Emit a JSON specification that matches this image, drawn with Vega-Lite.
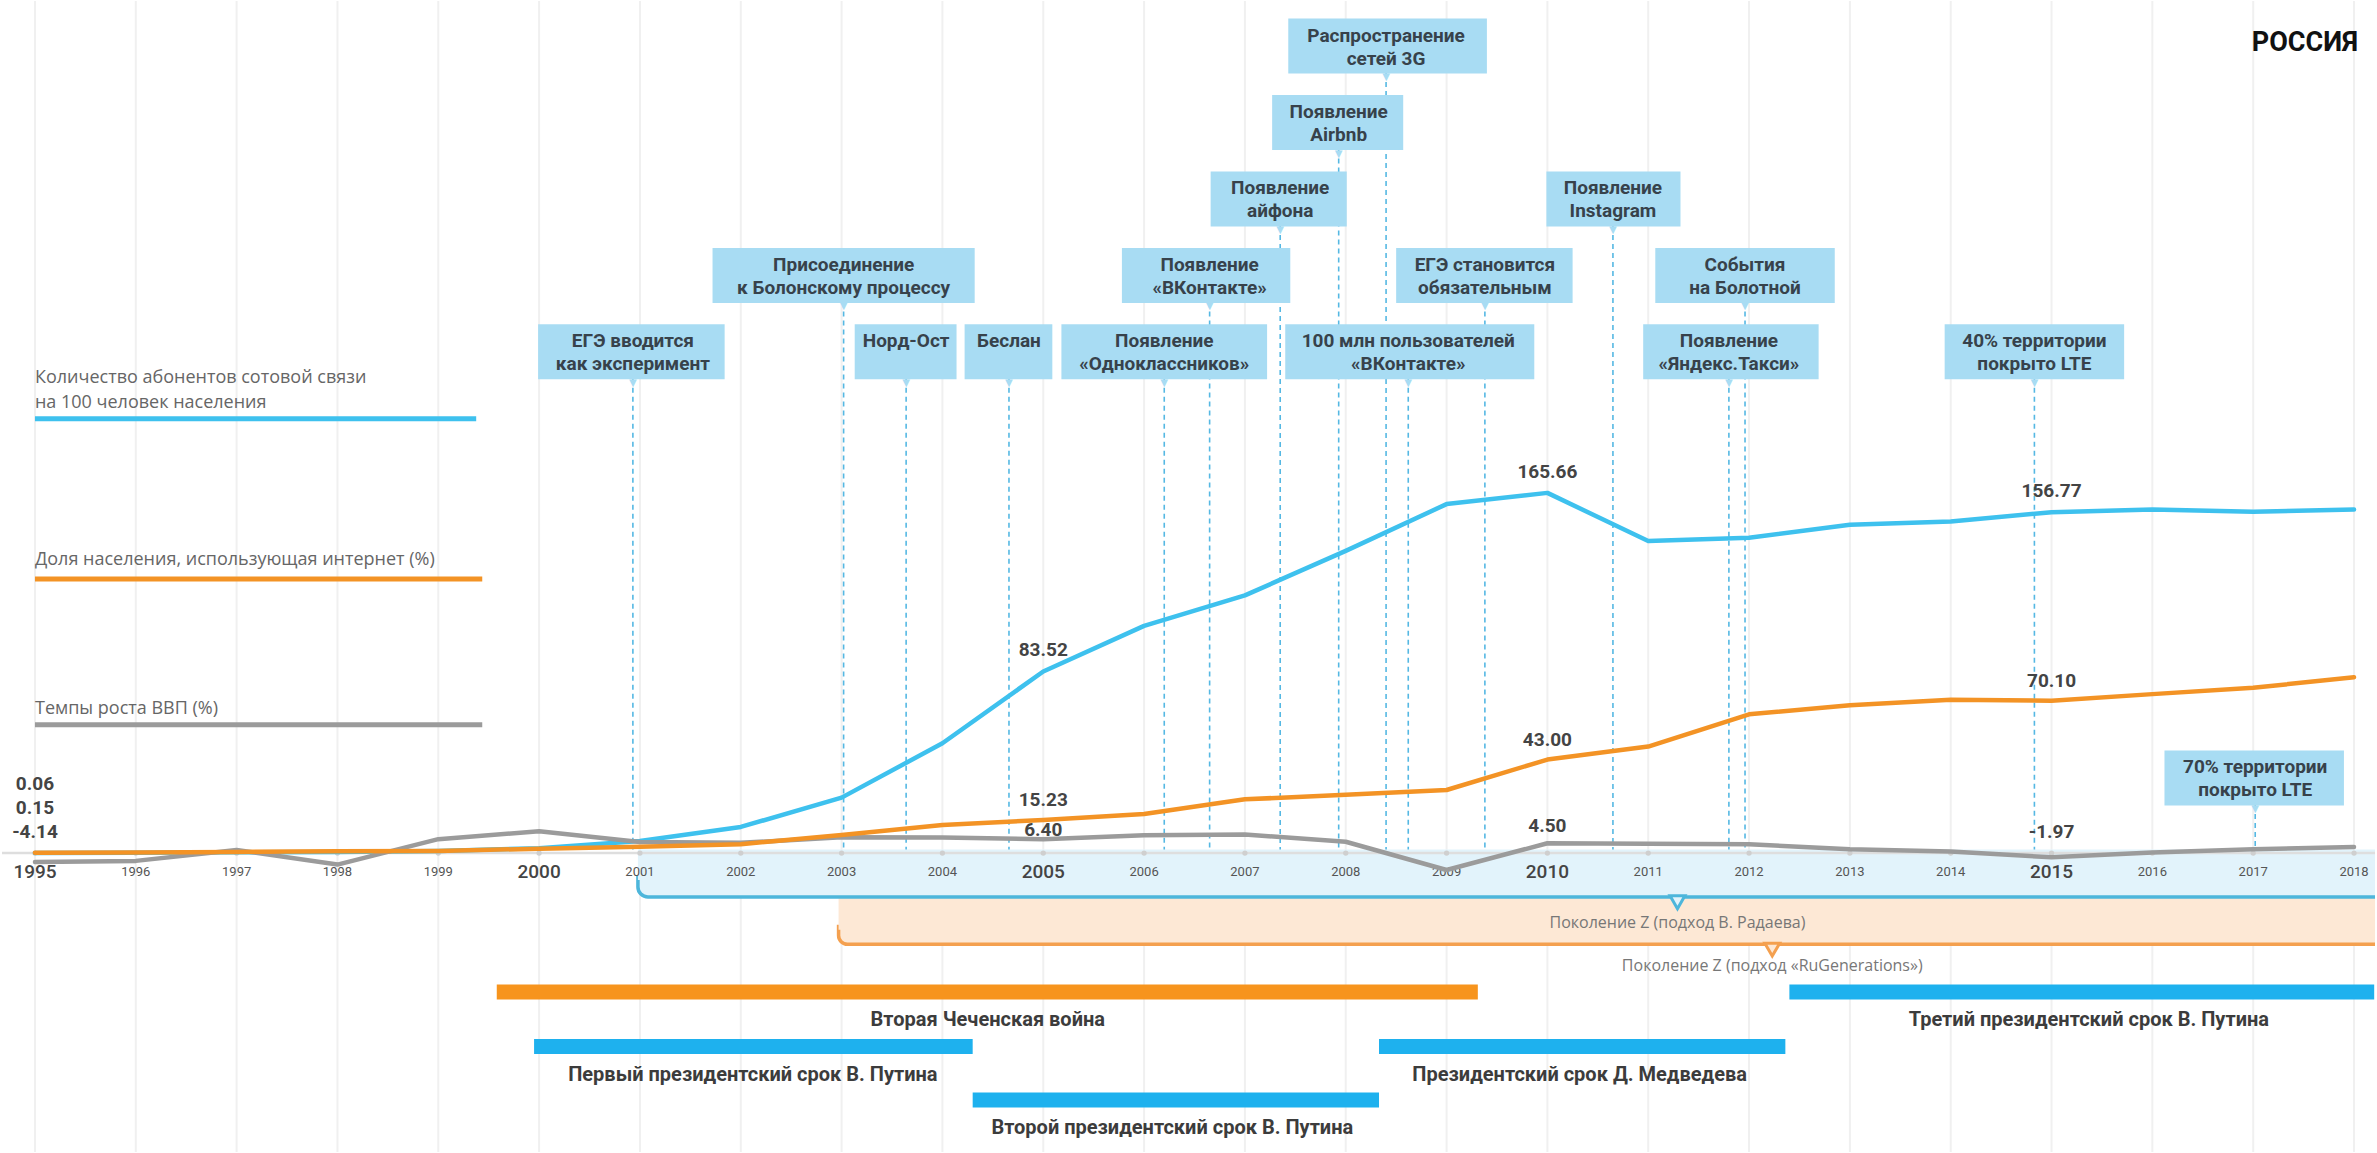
{
"$schema":"https://vega.github.io/schema/vega-lite/v6.json",
"width":2377,"height":1153,
"autosize":{"type":"fit","contains":"padding"},
"padding":0,
"background":"#ffffff",
"config":{"view":{"stroke":null},"font":"Roboto","locale":{"number":{"decimal":".","thousands":",","grouping":[3],"currency":["$",""],"minus":"-"}}},
"datasets":{
"series":[
{"year":1995,"series":"mobile","value":0.06},{"year":1996,"series":"mobile","value":0.15},{"year":1997,"series":"mobile","value":0.33},{"year":1998,"series":"mobile","value":0.51},{"year":1999,"series":"mobile","value":0.94},{"year":2000,"series":"mobile","value":2.2},{"year":2001,"series":"mobile","value":5.5},{"year":2002,"series":"mobile","value":12.0},{"year":2003,"series":"mobile","value":25.5},{"year":2004,"series":"mobile","value":50.5},{"year":2005,"series":"mobile","value":83.52},{"year":2006,"series":"mobile","value":104.5},{"year":2007,"series":"mobile","value":118.5},{"year":2008,"series":"mobile","value":139.0},{"year":2009,"series":"mobile","value":160.5},{"year":2010,"series":"mobile","value":165.66},{"year":2011,"series":"mobile","value":143.5},{"year":2012,"series":"mobile","value":145.0},{"year":2013,"series":"mobile","value":151.0},{"year":2014,"series":"mobile","value":152.5},{"year":2015,"series":"mobile","value":156.77},{"year":2016,"series":"mobile","value":158.0},{"year":2017,"series":"mobile","value":157.0},{"year":2018,"series":"mobile","value":158.0},
{"year":1995,"series":"internet","value":0.15},{"year":1996,"series":"internet","value":0.3},{"year":1997,"series":"internet","value":0.5},{"year":1998,"series":"internet","value":0.8},{"year":1999,"series":"internet","value":1.0},{"year":2000,"series":"internet","value":2.0},{"year":2001,"series":"internet","value":2.9},{"year":2002,"series":"internet","value":4.1},{"year":2003,"series":"internet","value":8.3},{"year":2004,"series":"internet","value":12.9},{"year":2005,"series":"internet","value":15.23},{"year":2006,"series":"internet","value":18.0},{"year":2007,"series":"internet","value":24.7},{"year":2008,"series":"internet","value":26.8},{"year":2009,"series":"internet","value":29.0},{"year":2010,"series":"internet","value":43.0},{"year":2011,"series":"internet","value":49.0},{"year":2012,"series":"internet","value":63.8},{"year":2013,"series":"internet","value":68.0},{"year":2014,"series":"internet","value":70.5},{"year":2015,"series":"internet","value":70.1},{"year":2016,"series":"internet","value":73.1},{"year":2017,"series":"internet","value":76.0},{"year":2018,"series":"internet","value":80.9},
{"year":1995,"series":"gdp","value":-4.14},{"year":1996,"series":"gdp","value":-3.6},{"year":1997,"series":"gdp","value":1.4},{"year":1998,"series":"gdp","value":-5.3},{"year":1999,"series":"gdp","value":6.4},{"year":2000,"series":"gdp","value":10.0},{"year":2001,"series":"gdp","value":5.1},{"year":2002,"series":"gdp","value":4.7},{"year":2003,"series":"gdp","value":7.3},{"year":2004,"series":"gdp","value":7.2},{"year":2005,"series":"gdp","value":6.4},{"year":2006,"series":"gdp","value":8.2},{"year":2007,"series":"gdp","value":8.5},{"year":2008,"series":"gdp","value":5.2},{"year":2009,"series":"gdp","value":-7.8},{"year":2010,"series":"gdp","value":4.5},{"year":2011,"series":"gdp","value":4.3},{"year":2012,"series":"gdp","value":4.0},{"year":2013,"series":"gdp","value":1.8},{"year":2014,"series":"gdp","value":0.7},{"year":2015,"series":"gdp","value":-1.97},{"year":2016,"series":"gdp","value":0.2},{"year":2017,"series":"gdp","value":1.8},{"year":2018,"series":"gdp","value":2.8}
],
"events":[
{"label":"ЕГЭ вводится\nкак эксперимент","year":2000.93,"x0":1999.99,"x1":2001.84,"tier":1},
{"label":"Норд-Ост\n ","year":2003.64,"x0":2003.13,"x1":2004.14,"tier":1},
{"label":"Беслан\n ","year":2004.66,"x0":2004.22,"x1":2005.09,"tier":1},
{"label":"Появление\n«Одноклассников»","year":2006.2,"x0":2005.18,"x1":2007.22,"tier":1},
{"label":"100 млн пользователей\n«ВКонтакте»","year":2008.62,"x0":2007.4,"x1":2009.87,"tier":1},
{"label":"Появление\n«Яндекс.Такси»","year":2011.8,"x0":2010.95,"x1":2012.69,"tier":1},
{"label":"40% территории\nпокрыто LTE","year":2014.83,"x0":2013.94,"x1":2015.72,"tier":1},
{"label":"Присоединение\nк Болонскому процессу","year":2003.02,"x0":2001.72,"x1":2004.32,"tier":2},
{"label":"Появление\n«ВКонтакте»","year":2006.65,"x0":2005.78,"x1":2007.45,"tier":2},
{"label":"ЕГЭ становится\nобязательным","year":2009.38,"x0":2008.5,"x1":2010.25,"tier":2},
{"label":"События\nна Болотной","year":2011.96,"x0":2011.07,"x1":2012.85,"tier":2},
{"label":"Появление\nайфона","year":2007.35,"x0":2006.66,"x1":2008.01,"tier":3},
{"label":"Появление\nInstagram","year":2010.65,"x0":2009.99,"x1":2011.32,"tier":3},
{"label":"Появление\nAirbnb","year":2007.93,"x0":2007.27,"x1":2008.57,"tier":4},
{"label":"Распространение\nсетей 3G","year":2008.4,"x0":2007.43,"x1":2009.4,"tier":5},
{"label":"70% территории\nпокрыто LTE","year":2017.02,"x0":2016.12,"x1":2017.9,"tier":-4.573}
],
"terms":[
{"label":"Вторая Чеченская война","kind":"war","start":1999.58,"end":2009.31,"mid":2004.45,"row":-7.375},
{"label":"Первый президентский срок В. Путина","kind":"term","start":1999.95,"end":2004.3,"mid":2002.12,"row":-8.087},
{"label":"Второй президентский срок В. Путина","kind":"term","start":2004.3,"end":2008.33,"mid":2006.28,"row":-8.786},
{"label":"Президентский срок Д. Медведева","kind":"term","start":2008.33,"end":2012.36,"mid":2010.32,"row":-8.087},
{"label":"Третий президентский срок В. Путина","kind":"term","start":2012.4,"end":2018.2,"mid":2015.37,"row":-7.375}
],
"bands":[
{"gen":"radaev","label":"Поколение Z (подход В. Радаева)","start":2000.98,"lx":2011.29},
{"gen":"rugen","label":"Поколение Z (подход «RuGenerations»)","start":2002.97,"lx":2012.23}
]
},
"layer":[
{"layer":[
{"data":{"name":"series"},"transform":[{"filter":"datum.series==='mobile'"}],
 "mark":{"type":"rule","color":"#f0f0f0","strokeWidth":2},
 "encoding":{"x":{"field":"year","type":"quantitative","scale":{"domain":[1994.673,2018.208],"nice":false,"zero":false},"axis":null}}}
]},
{"layer":[
{"data":{"name":"bands"},"transform":[{"filter":"datum.gen==='rugen'"}],
 "mark":{"type":"rect","fill":"#fde8d5","stroke":"#f4a04f","strokeWidth":3.5,"cornerRadiusBottomLeft":12,"clip":true},
 "encoding":{"x":{"field":"start","type":"quantitative","scale":{"domain":[1994.673,2018.208],"nice":false,"zero":false},"axis":null},"x2":{"datum":2018.6},
  "y":{"datum":-6.518,"type":"quantitative","scale":{"domain":[-9.401,5.524],"nice":false,"zero":false},"axis":null},"y2":{"datum":-6.75}}},
{"data":{"name":"bands"},"transform":[{"filter":"datum.gen==='rugen'"}],
 "mark":{"type":"rect","fill":"#fde8d5","clip":true},
 "encoding":{"x":{"field":"start","type":"quantitative"},"x2":{"datum":2018.6},"y":{"datum":-6.13,"type":"quantitative"},"y2":{"datum":-6.56}}},
{"data":{"name":"bands"},"transform":[{"filter":"datum.gen==='radaev'"}],
 "mark":{"type":"rect","fill":"#e2f3fb","stroke":"#4db6db","strokeWidth":3.5,"cornerRadiusBottomLeft":12,"clip":true},
 "encoding":{"x":{"field":"start","type":"quantitative"},"x2":{"datum":2018.6},"y":{"datum":-5.868,"type":"quantitative"},"y2":{"datum":-6.13}}},
{"data":{"name":"bands"},"transform":[{"filter":"datum.gen==='radaev'"}],
 "mark":{"type":"rect","fill":"#e2f3fb","clip":true},
 "encoding":{"x":{"field":"start","type":"quantitative"},"x2":{"datum":2018.6},"y":{"datum":-5.508,"type":"quantitative"},"y2":{"datum":-5.91}}},
{"data":{"name":"bands"},"transform":[{"filter":"datum.gen==='radaev'"}],
 "mark":{"type":"point","shape":"triangle-down","filled":true,"fill":"#e2f3fb","stroke":"#4db6db","strokeWidth":3,"size":220,"opacity":1},
 "encoding":{"x":{"field":"lx","type":"quantitative"},"y":{"datum":-6.2,"type":"quantitative"}}},
{"data":{"name":"bands"},"transform":[{"filter":"datum.gen==='rugen'"}],
 "mark":{"type":"point","shape":"triangle-down","filled":true,"fill":"#fde8d5","stroke":"#f4a04f","strokeWidth":3,"size":220,"opacity":1},
 "encoding":{"x":{"field":"lx","type":"quantitative"},"y":{"datum":-6.82,"type":"quantitative"}}},
{"data":{"name":"bands"},"transform":[{"filter":"datum.gen==='radaev'"}],
 "mark":{"type":"text","font":"Open Sans","fontSize":16,"color":"#777777","align":"center","baseline":"middle"},
 "encoding":{"x":{"field":"lx","type":"quantitative"},"y":{"datum":-6.467,"type":"quantitative"},"text":{"field":"label"}}},
{"data":{"name":"bands"},"transform":[{"filter":"datum.gen==='rugen'"}],
 "mark":{"type":"text","font":"Open Sans","fontSize":16,"color":"#777777","align":"center","baseline":"middle"},
 "encoding":{"x":{"field":"lx","type":"quantitative"},"y":{"datum":-7.033,"type":"quantitative"},"text":{"field":"label"}}},
{"data":{"name":"terms"},
 "mark":{"type":"bar","size":15,"clip":true},
 "encoding":{"x":{"field":"start","type":"quantitative"},"x2":{"field":"end"},"y":{"field":"row","type":"quantitative"},
  "color":{"field":"kind","type":"nominal","scale":{"domain":["war","term"],"range":["#f7941d","#1eb1ee"]},"legend":null}}},
{"data":{"name":"terms"},
 "mark":{"type":"text","fontSize":20,"fontWeight":"bold","color":"#3c3c3c","align":"center","baseline":"middle","dy":28},
 "encoding":{"x":{"field":"mid","type":"quantitative"},"y":{"field":"row","type":"quantitative"},"text":{"field":"label"}}},
{"data":{"values":[{}]},"mark":{"type":"rule","color":"#3ec1ee","strokeWidth":5},
 "encoding":{"x":{"datum":1995.0,"type":"quantitative"},"x2":{"datum":1999.376},"y":{"datum":0.126,"type":"quantitative"}}},
{"data":{"values":[{}]},"mark":{"type":"rule","color":"#f39325","strokeWidth":5},
 "encoding":{"x":{"datum":1995.0,"type":"quantitative"},"x2":{"datum":1999.436},"y":{"datum":-1.97,"type":"quantitative"}}},
{"data":{"values":[{}]},"mark":{"type":"rule","color":"#9b9b9b","strokeWidth":5},
 "encoding":{"x":{"datum":1995.0,"type":"quantitative"},"x2":{"datum":1999.436},"y":{"datum":-3.877,"type":"quantitative"}}},
{"data":{"values":[{"t":"Количество абонентов сотовой связи\nна 100 человек населения"}]},
 "mark":{"type":"text","font":"Open Sans","fontSize":18,"color":"#666666","align":"left","baseline":"middle","lineBreak":"\n","lineHeight":25},
 "encoding":{"x":{"datum":1995.0,"type":"quantitative"},"y":{"datum":0.66,"type":"quantitative"},"text":{"field":"t"}}},
{"data":{"values":[{"t":"Доля населения, использующая интернет (%)"}]},
 "mark":{"type":"text","font":"Open Sans","fontSize":18,"color":"#666666","align":"left","baseline":"middle"},
 "encoding":{"x":{"datum":1995.0,"type":"quantitative"},"y":{"datum":-1.725,"type":"quantitative"},"text":{"field":"t"}}},
{"data":{"values":[{"t":"Темпы роста ВВП (%)"}]},
 "mark":{"type":"text","font":"Open Sans","fontSize":18,"color":"#666666","align":"left","baseline":"middle"},
 "encoding":{"x":{"datum":1995.0,"type":"quantitative"},"y":{"datum":-3.667,"type":"quantitative"},"text":{"field":"t"}}},
{"data":{"name":"events"},
 "mark":{"type":"rule","color":"#55b8e3","strokeWidth":1.6,"strokeDash":[5,4]},
 "encoding":{"x":{"field":"year","type":"quantitative"},"y":{"field":"tier","type":"quantitative"},"y2":{"datum":-5.508}}},
{"data":{"name":"events"},
 "mark":{"type":"bar","size":55,"color":"#a8dcf3"},
 "encoding":{"x":{"field":"x0","type":"quantitative"},"x2":{"field":"x1"},"y":{"field":"tier","type":"quantitative"}}},
{"data":{"name":"events"},
 "mark":{"type":"text","text":"▼","fontSize":13,"color":"#a8dcf3","align":"center","baseline":"middle","dy":31},
 "encoding":{"x":{"field":"year","type":"quantitative"},"y":{"field":"tier","type":"quantitative"}}},
{"data":{"name":"events"},
 "mark":{"type":"text","fontSize":19,"fontWeight":"bold","color":"#37424b","align":"center","baseline":"middle","lineBreak":"\n","lineHeight":23,"dy":-10.5},
 "encoding":{"x":{"field":"year","type":"quantitative"},"y":{"field":"tier","type":"quantitative"},"text":{"field":"label"}}},
{"data":{"values":[{"t":"РОССИЯ"}]},
 "mark":{"type":"text","fontSize":27,"fontWeight":"bold","color":"#111111","align":"right","baseline":"middle"},
 "encoding":{"x":{"datum":2018.04,"type":"quantitative"},"y":{"datum":5.045,"type":"quantitative"},"text":{"field":"t"}}}
]},
{"layer":[
{"data":{"values":[{}]},"mark":{"type":"rule","color":"#dedede","strokeWidth":2.5},
 "encoding":{"y":{"datum":0,"type":"quantitative","scale":{"domain":[-137.5,391.9],"nice":false,"zero":false},"axis":null}}},
{"data":{"name":"series"},"transform":[{"filter":"datum.series==='mobile'"}],
 "mark":{"type":"point","filled":true,"color":"#cfcfcf","size":28,"opacity":1},
 "encoding":{"x":{"field":"year","type":"quantitative"},"y":{"datum":0,"type":"quantitative"}}},
{"data":{"name":"series"},"transform":[{"filter":"datum.series==='mobile' && datum.year % 5 !== 0"}],
 "mark":{"type":"text","fontSize":13,"color":"#555555","align":"center","baseline":"middle"},
 "encoding":{"x":{"field":"year","type":"quantitative"},"y":{"datum":-8.5,"type":"quantitative"},"text":{"field":"year","type":"nominal"}}},
{"data":{"name":"series"},"transform":[{"filter":"datum.series==='mobile' && datum.year % 5 === 0"}],
 "mark":{"type":"text","fontSize":19,"fontWeight":500,"color":"#444444","align":"center","baseline":"middle"},
 "encoding":{"x":{"field":"year","type":"quantitative"},"y":{"datum":-8.5,"type":"quantitative"},"text":{"field":"year","type":"nominal"}}},
{"data":{"name":"series"},"transform":[{"filter":"datum.series==='mobile'"}],
 "mark":{"type":"line","color":"#3ec1ee","strokeWidth":4.5,"strokeCap":"round","strokeJoin":"round"},
 "encoding":{"x":{"field":"year","type":"quantitative"},"y":{"field":"value","type":"quantitative"}}},
{"data":{"name":"series"},"transform":[{"filter":"datum.series==='gdp'"}],
 "mark":{"type":"line","color":"#9b9b9b","strokeWidth":4.5,"strokeCap":"round","strokeJoin":"round"},
 "encoding":{"x":{"field":"year","type":"quantitative"},"y":{"field":"value","type":"quantitative"}}},
{"data":{"name":"series"},"transform":[{"filter":"datum.series==='internet'"}],
 "mark":{"type":"line","color":"#f39325","strokeWidth":4.5,"strokeCap":"round","strokeJoin":"round"},
 "encoding":{"x":{"field":"year","type":"quantitative"},"y":{"field":"value","type":"quantitative"}}},
{"data":{"name":"series"},"transform":[{"filter":"datum.series==='mobile' && (datum.year===2005 || datum.year===2010 || datum.year===2015)"}],
 "mark":{"type":"text","fontSize":19,"fontWeight":"bold","color":"#444444","align":"center","baseline":"middle","dy":-21},
 "encoding":{"x":{"field":"year","type":"quantitative"},"y":{"field":"value","type":"quantitative"},"text":{"field":"value","type":"quantitative","format":".2f"}}},
{"data":{"name":"series"},"transform":[{"filter":"datum.series==='internet' && (datum.year===2005 || datum.year===2010 || datum.year===2015)"}],
 "mark":{"type":"text","fontSize":19,"fontWeight":"bold","color":"#444444","align":"center","baseline":"middle","dy":-20},
 "encoding":{"x":{"field":"year","type":"quantitative"},"y":{"field":"value","type":"quantitative"},"text":{"field":"value","type":"quantitative","format":".2f"}}},
{"data":{"name":"series"},"transform":[{"filter":"datum.series==='gdp' && datum.year===2005"}],
 "mark":{"type":"text","fontSize":19,"fontWeight":"bold","color":"#444444","align":"center","baseline":"middle","dy":-9},
 "encoding":{"x":{"field":"year","type":"quantitative"},"y":{"field":"value","type":"quantitative"},"text":{"field":"value","type":"quantitative","format":".2f"}}},
{"data":{"name":"series"},"transform":[{"filter":"datum.series==='gdp' && datum.year===2010"}],
 "mark":{"type":"text","fontSize":19,"fontWeight":"bold","color":"#444444","align":"center","baseline":"middle","dy":-17},
 "encoding":{"x":{"field":"year","type":"quantitative"},"y":{"field":"value","type":"quantitative"},"text":{"field":"value","type":"quantitative","format":".2f"}}},
{"data":{"name":"series"},"transform":[{"filter":"datum.series==='gdp' && datum.year===2015"}],
 "mark":{"type":"text","fontSize":19,"fontWeight":"bold","color":"#444444","align":"center","baseline":"middle","dy":-25},
 "encoding":{"x":{"field":"year","type":"quantitative"},"y":{"field":"value","type":"quantitative"},"text":{"field":"value","type":"quantitative","format":".2f"}}},
{"data":{"name":"series"},"transform":[{"filter":"datum.series==='mobile' && datum.year===1995"}],
 "mark":{"type":"text","fontSize":19,"fontWeight":"bold","color":"#444444","align":"center","baseline":"middle","dy":-69},
 "encoding":{"x":{"field":"year","type":"quantitative"},"y":{"field":"value","type":"quantitative"},"text":{"field":"value","type":"quantitative","format":".2f"}}},
{"data":{"name":"series"},"transform":[{"filter":"datum.series==='internet' && datum.year===1995"}],
 "mark":{"type":"text","fontSize":19,"fontWeight":"bold","color":"#444444","align":"center","baseline":"middle","dy":-45},
 "encoding":{"x":{"field":"year","type":"quantitative"},"y":{"field":"value","type":"quantitative"},"text":{"field":"value","type":"quantitative","format":".2f"}}},
{"data":{"name":"series"},"transform":[{"filter":"datum.series==='gdp' && datum.year===1995"}],
 "mark":{"type":"text","fontSize":19,"fontWeight":"bold","color":"#444444","align":"center","baseline":"middle","dy":-30},
 "encoding":{"x":{"field":"year","type":"quantitative"},"y":{"field":"value","type":"quantitative"},"text":{"field":"value","type":"quantitative","format":".2f"}}}
]}
],
"resolve":{"scale":{"y":"independent"}}
}
